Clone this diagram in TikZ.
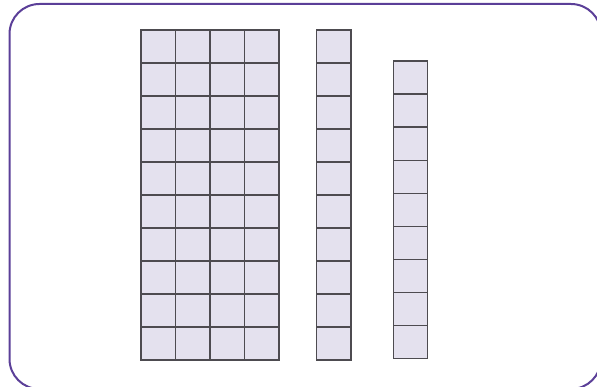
\documentclass[tikz,border=0pt]{standalone}
\usepackage{xcolor}
\usepackage{tikz}
\definecolor{framepurple}{HTML}{5B3F98}
\definecolor{cellfill}{HTML}{E4E1EE}
\definecolor{cellline}{HTML}{4D4B50}
\tikzset{
  frame/.style={draw=framepurple, line width=2pt, rounded corners=30pt},
  unitcell/.style={draw=cellline, fill=cellfill, line width=1.2pt, minimum width=34.5pt, minimum height=33pt, inner sep=0pt, outer sep=0pt}
}

\begin{document}
\begin{tikzpicture}[x=1pt,y=-1pt]
\useasboundingbox (0,0) rectangle (597,387);
\draw[frame] (9.5,4) rectangle (601,389);
% hundred block: 4 columns of ten
\foreach \c in {0,...,3} {
  \foreach \r in {0,...,9} {
    \node[unitcell] (hund-\c-\r) at (158.25+34.5*\c,46.5+33*\r) {};
  }
}
% ten rod
\foreach \r in {0,...,9} {
  \node[unitcell] (ten-\r) at (333.75,46.5+33*\r) {};
}
% nine ones
\foreach \r in {0,...,8} {
  \node[unitcell] (one-\r) at (410.5,77.5+33.1*\r) {};
}
\end{tikzpicture}
\end{document}
